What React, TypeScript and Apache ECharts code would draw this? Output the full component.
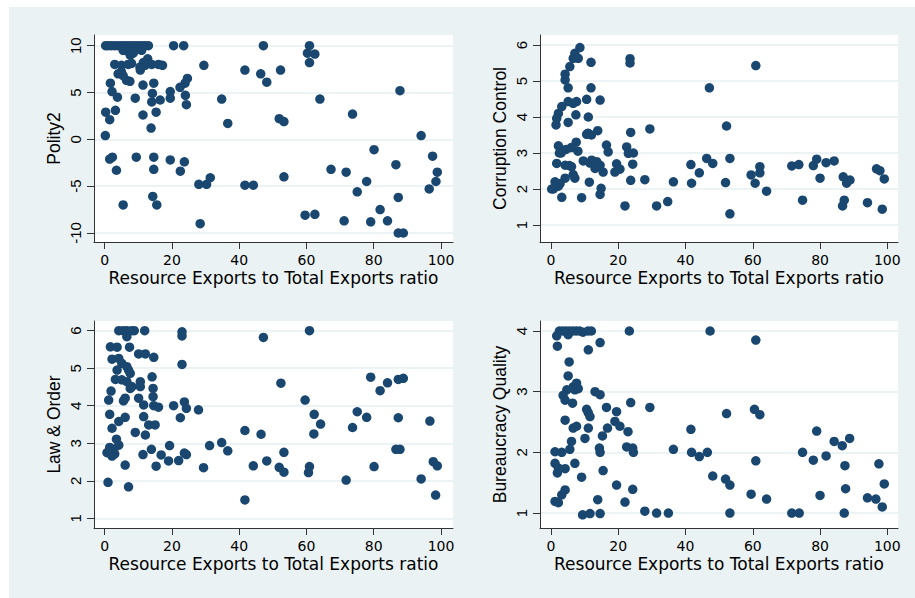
import React, { useEffect, useRef } from "react";
import * as echarts from "echarts";

const xTicks = [0, 20, 40, 60, 80, 100];
const polityTicks = [-10, -5, 0, 5, 10];
const corruptionTicks = [1, 2, 3, 4, 5, 6];
const lawTicks = [1, 2, 3, 4, 5, 6];
const bureaucracyTicks = [1, 2, 3, 4];

const xTitle = "Resource Exports to Total Exports ratio";

const polityPoints = [
  [0.3, 10], [1, 10], [2, 10], [3, 10], [4, 10], [5, 10], [6, 10], [7, 10], [8, 10], [9, 10],
  [10, 10], [11, 10], [12, 10], [13, 10], [20.5, 10], [23.5, 10], [47.2, 10], [60.9, 10],
  [5.5, 9.5], [7, 9.4], [8.5, 9.2], [9.5, 9.6], [11, 9.5], [7.6, 9.0],
  [3, 8], [5, 7.9], [7, 8], [8, 8.1], [10.5, 7.7], [12, 7.9], [12.8, 8.6], [14, 8], [16, 8],
  [17.2, 7.9], [10.6, 7.4], [11.5, 8.2],
  [4, 7], [5.5, 6.8], [6.5, 6.3], [7.5, 6.2], [5, 7.2],
  [1.7, 6.0], [11.4, 5.8], [14.6, 6.0], [22.4, 5.55], [23.9, 6.0], [24.6, 6.5],
  [2.2, 5.1], [3.8, 4.5], [9.1, 4.4], [14.2, 4.9], [14, 4.0], [16.5, 4.2], [19.5, 5.1],
  [19.5, 4.4], [24, 4.7], [24.3, 3.7],
  [0.3, 2.9], [1.5, 2.1], [3.2, 3.1], [11.4, 2.6], [15.3, 2.9], [13.8, 1.2], [0.2, 0.4],
  [1.5, -2.1], [2.3, -1.9], [9.4, -1.9], [14.6, -1.9], [19.5, -2.2], [23.7, -2.4],
  [3.5, -3.3], [14.6, -3.2], [22.5, -3.4],
  [28, -4.8], [30.3, -4.8], [31.4, -4.1], [14.3, -6.1], [15.5, -7.0], [5.5, -7.0], [28.4, -9.0],
  [29.5, 7.9], [34.8, 4.3], [36.6, 1.7], [41.7, 7.4], [41.7, -4.9], [44.2, -4.9], [46.4, 7.0],
  [48.2, 6.1], [52.3, 7.4], [51.9, 2.2], [53.3, 1.9], [53.3, -4.0], [60.3, 9.2], [62.5, 9.1],
  [60.9, 8.2], [64, 4.3], [59.6, -8.1], [62.5, -8.0], [67.3, -3.2], [71.8, -3.5], [73.7, 2.7],
  [71.2, -8.7], [75.1, -5.6], [77.9, -4.5], [79.1, -8.8], [80.1, -1.1], [81.9, -7.5],
  [84.1, -8.7], [86.6, -2.7], [87.3, -6.2], [87.8, 5.2], [87.3, -10], [88.8, -10],
  [94.1, 0.4], [96.5, -5.3], [97.5, -1.8], [98.9, -3.5], [98.5, -4.5],
];

const corruptionPoints = [
  [8.6, 5.93], [7.1, 5.77], [6.6, 5.63], [8.1, 5.63], [5.6, 5.4], [4.2, 5.19], [4.2, 5.03],
  [5.1, 4.81], [11.9, 5.52], [23.5, 5.62], [23.5, 5.5], [11.9, 4.81], [14.6, 4.47], [10.6, 4.49],
  [5.1, 4.43], [6.6, 4.38], [7.6, 4.43], [3.2, 4.29], [2.2, 4.1], [1.7, 3.96], [1.5, 3.78],
  [7.4, 4.06], [11.1, 4.0], [5.1, 3.85], [10.6, 3.52], [13.9, 3.62], [23.7, 3.57], [29.4, 3.67],
  [2.2, 3.2], [2.5, 3.0], [4.5, 3.1], [6, 3.15], [7.5, 3.3], [8, 3.05], [16.5, 3.22], [17, 3.03],
  [22.5, 3.17], [23, 2.99], [24.5, 3.0], [1.7, 2.71], [4.2, 2.66], [6.1, 2.62], [9.6, 2.78],
  [12.1, 2.8], [13.6, 2.76], [14.6, 2.66], [15.5, 2.47], [13.1, 2.57], [11.6, 2.72], [19.5, 2.7],
  [20.5, 2.55], [19, 2.47], [24.3, 2.69], [1.2, 2.2], [2.7, 2.15], [4.2, 2.3], [7.1, 2.3],
  [0.2, 2.0], [3.2, 1.77], [11.4, 2.19], [14.9, 2.02], [14.6, 1.85], [9.1, 1.76], [23.7, 2.24],
  [27.9, 2.26], [22, 1.53], [31.4, 1.53], [0.7, 2.0], [2.2, 2.08], [6.6, 2.4], [11, 3.55],
  [12, 3.5], [3, 3.0], [5.5, 2.65],
  [34.7, 1.65], [36.4, 2.2], [41.6, 2.68], [41.8, 2.16], [44.1, 2.45], [46.3, 2.85], [48.1, 2.71],
  [47.1, 4.81], [52.2, 3.75], [51.9, 2.18], [53.2, 2.85], [53.2, 1.31], [59.5, 2.39], [60.7, 2.16],
  [62.1, 2.62], [62.1, 2.45], [60.9, 5.43], [64.1, 1.94], [71.6, 2.64], [73.7, 2.68], [74.8, 1.69],
  [78, 2.65], [79, 2.83], [80, 2.3], [81.8, 2.73], [84.2, 2.78], [86.9, 2.34], [87.9, 2.16],
  [88.9, 2.25], [87.2, 1.69], [86.7, 1.53], [94.1, 1.62], [96.8, 2.56], [97.8, 2.51], [99.1, 2.28],
  [98.5, 1.44],
];

const lawPoints = [
  [4.2, 6], [5.5, 6], [6.6, 6], [8, 6], [8.8, 6], [11.9, 6], [6.6, 5.84], [23, 5.97], [23, 5.86],
  [1.7, 5.57], [3.7, 5.56], [7.4, 5.56], [10.1, 5.38], [12.1, 5.38], [14.6, 5.29], [2.2, 5.24],
  [4.2, 5.26], [5.1, 5.13], [6.6, 5.04], [23, 5.1], [3.7, 4.95], [7.1, 4.95], [7.6, 4.86],
  [3.2, 4.7], [5.1, 4.69], [6.6, 4.64], [8.1, 4.51], [10.6, 4.64], [10.6, 4.51], [14.1, 4.77],
  [1.9, 4.39], [7.6, 4.46], [14.4, 4.46], [14.4, 4.24], [1.2, 4.15], [5.6, 4.13], [6.1, 4.2],
  [10.1, 4.2], [11.6, 4.02], [14.6, 4.0], [16, 3.96], [20.5, 4.0], [23.7, 4.1], [24.3, 3.93],
  [27.9, 3.89], [1.5, 3.77], [6.1, 3.69], [11.6, 3.71], [4.2, 3.58], [2.2, 3.4], [13.1, 3.49],
  [15, 3.49], [9.1, 3.29], [12.1, 3.22], [22.5, 3.68], [3.5, 3.11], [4.2, 2.95], [1.5, 2.89],
  [2.7, 2.84], [0.7, 2.75], [2.2, 2.66], [3.0, 2.72], [6.1, 2.42], [13.9, 2.84], [11.4, 2.7],
  [15.3, 2.39], [16.8, 2.69], [19.3, 2.94], [19, 2.53], [22, 2.54], [23.7, 2.74], [24.3, 2.7],
  [29.4, 2.35], [31.2, 2.94], [1.0, 1.96], [7.1, 1.84],
  [34.8, 3.02], [36.6, 2.8], [41.7, 3.34], [41.7, 1.49], [44.2, 2.4], [46.5, 3.24], [47.2, 5.82],
  [48.2, 2.53], [51.9, 2.36], [52.4, 4.6], [53.3, 2.76], [53.3, 2.23], [59.6, 4.15], [60.9, 6.0],
  [60.9, 2.38], [60.6, 2.22], [62.3, 3.77], [62.2, 3.25], [64.2, 3.51], [71.8, 2.02], [73.7, 3.42],
  [75.1, 3.84], [77.9, 3.69], [79.1, 4.76], [80.1, 2.38], [81.9, 4.4], [84.1, 4.61], [87.3, 4.7],
  [88.8, 4.73], [87.3, 3.68], [86.6, 2.84], [87.8, 2.84], [94.1, 2.05], [96.7, 3.59], [97.7, 2.51],
  [98.9, 2.4], [98.4, 1.62],
];

const bureaucracyPoints = [
  [2.5, 4], [3.5, 4], [4.5, 4], [5.5, 4], [6.5, 4], [7.5, 4], [8.5, 4], [9.5, 3.98], [11, 4],
  [12, 4], [1.7, 3.92], [5.1, 3.94], [1.9, 3.75], [23.3, 4.0], [47.3, 4.0], [60.9, 3.85],
  [14.6, 3.81], [11.1, 3.69], [5.4, 3.49], [5.1, 3.26], [6.6, 3.08], [7.6, 3.14], [7.1, 3.03],
  [8.1, 3.05], [4.7, 3.03], [3.6, 2.94], [4.2, 2.86], [6.4, 2.81], [13.1, 3.0], [14.6, 2.95],
  [23.7, 2.82], [29.4, 2.74], [16.5, 2.74], [10.6, 2.71], [11.1, 2.65], [11.6, 2.59], [19.5, 2.67],
  [4.2, 2.53], [6.6, 2.4], [7.6, 2.43], [11.1, 2.4], [16.8, 2.4], [19, 2.51], [20.5, 2.43],
  [22.9, 2.34], [10.1, 2.23], [15.3, 2.27], [6.1, 2.18], [1.2, 2.01], [3.2, 2.0], [5.6, 2.05],
  [14.4, 2.07], [14.6, 2.0], [22.5, 2.09], [24.3, 2.07], [24.5, 2.0], [1.2, 1.82], [2.2, 1.74],
  [4.2, 1.73], [1.9, 1.66], [7.1, 1.82], [9.1, 1.59], [15.5, 1.7], [19.5, 1.46], [24.3, 1.39],
  [4.2, 1.38], [3.2, 1.3], [1.2, 1.19], [2.2, 1.17], [13.9, 1.22], [22, 1.18], [9.4, 0.97],
  [11.6, 0.99], [14.6, 0.99], [27.9, 1.03], [31.4, 1.0],
  [34.9, 1.0], [36.4, 2.05], [41.6, 2.38], [41.8, 2.0], [44.1, 1.93], [46.5, 2.0], [48.1, 1.61],
  [52.2, 2.64], [51.9, 1.56], [53.2, 1.46], [53.2, 1.0], [59.5, 1.31], [60.5, 2.71], [62.1, 2.62],
  [60.9, 1.86], [64.1, 1.23], [71.6, 1.0], [73.8, 1.0], [74.8, 2.0], [78, 1.87], [79, 2.35],
  [80, 1.29], [81.8, 1.94], [84.2, 2.18], [86.6, 2.11], [88.8, 2.23], [87.4, 1.78], [87.6, 1.4],
  [87.2, 1.0], [94.1, 1.25], [96.6, 1.23], [97.5, 1.81], [98.5, 1.1], [99.1, 1.48],
];

const panels = [
  { name: "Polity2", points: polityPoints, ticks: polityTicks,
    rect: { left: 94, top: 35, width: 359, height: 207 }, xr: [-3.17, 103.57], yr: [-10.96, 11.14] },
  { name: "Corruption Control", points: corruptionPoints, ticks: corruptionTicks,
    rect: { left: 540, top: 35, width: 358, height: 207 }, xr: [-3.27, 103.18], yr: [0.528, 6.278] },
  { name: "Law & Order", points: lawPoints, ticks: lawTicks,
    rect: { left: 94, top: 321, width: 359, height: 207 }, xr: [-3.17, 103.57], yr: [0.742, 6.258] },
  { name: "Bureaucracy Quality", points: bureaucracyPoints, ticks: bureaucracyTicks,
    rect: { left: 540, top: 321, width: 358, height: 207 }, xr: [-3.27, 103.18], yr: [0.753, 4.165] },
];

const MARKER = "#1A476F";
const AXIS = "#333333";
const GRIDLINE = "#E6EFF1";

export default function App() {
  const ref = useRef<HTMLDivElement>(null);
  useEffect(() => {
    if (!ref.current) return;
    const chart = echarts.init(ref.current, undefined, { renderer: "svg" });
    const option: any = {
      animation: false,
      backgroundColor: "transparent",
      grid: panels.map((p) => ({
        ...p.rect,
        show: true,
        backgroundColor: "#ffffff",
        borderWidth: 0,
      })),
      xAxis: panels.map((p, i) => ({
        type: "value",
        gridIndex: i,
        min: p.xr[0],
        max: p.xr[1],
        name: xTitle,
        nameLocation: "middle",
        nameGap: 27,
        nameTextStyle: { fontFamily: "DejaVu Sans", fontSize: 17, color: "#000" },
        axisLine: { show: true, onZero: false, lineStyle: { color: AXIS, width: 1 } },
        axisTick: { show: true, length: 7, customValues: xTicks, lineStyle: { color: AXIS, width: 1 } },
        axisLabel: { customValues: xTicks, margin: 11, fontFamily: "DejaVu Sans", fontSize: 14, color: "#000" },
        splitLine: { show: false },
      })),
      yAxis: panels.map((p, i) => ({
        type: "value",
        gridIndex: i,
        min: p.yr[0],
        max: p.yr[1],
        name: p.name,
        nameLocation: "middle",
        nameGap: 31,
        nameTextStyle: { fontFamily: "Liberation Sans", fontSize: 17.5, color: "#000" },
        axisLine: { show: true, onZero: false, lineStyle: { color: AXIS, width: 1 } },
        axisTick: { show: true, length: 7, customValues: p.ticks, lineStyle: { color: AXIS, width: 1 } },
        axisLabel: { customValues: p.ticks, rotate: 90, margin: 11, fontFamily: "Liberation Sans", fontSize: 15, color: "#000" },
        splitLine: { show: true, lineStyle: { color: GRIDLINE, width: 1.5 } },
      })),
      series: panels.map((p, i) => ({
        type: "scatter",
        xAxisIndex: i,
        yAxisIndex: i,
        symbol: "circle",
        symbolSize: 9.5,
        itemStyle: { color: MARKER, opacity: 1 },
        data: p.points,
      })),
    };
    chart.setOption(option);
    return () => chart.dispose();
  }, []);

  return (
    <div style={{ position: "fixed", left: 0, top: 0, width: 915, height: 598, background: "#ffffff" }}>
      <div style={{ position: "absolute", left: 9, top: 7, right: 0, bottom: 0, background: "#EAF2F3" }} />
      <div ref={ref} style={{ position: "absolute", left: 0, top: 0, width: 915, height: 598 }} />
    </div>
  );
}
